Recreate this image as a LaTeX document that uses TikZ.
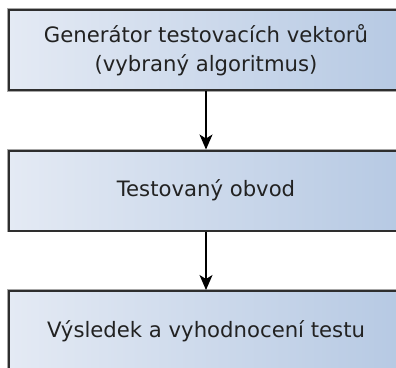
\documentclass[tikz,border=0pt]{standalone}
\usepackage{fontspec}
\setmainfont{DejaVu Sans}
\usetikzlibrary{arrows.meta}
\definecolor{boxleft}{HTML}{E4EAF4}
\definecolor{boxright}{HTML}{B6C9E3}
\definecolor{edge}{HTML}{2E2E2E}
\definecolor{txt}{HTML}{222222}
\tikzset{
  stage/.style={rectangle, minimum width=394pt, minimum height=80pt, inner sep=0pt,
    left color=boxleft, right color=boxright,
    preaction={draw=gray!70, line width=3.6pt},
    draw=edge, line width=2pt,
    font=\fontsize{21.2}{29}\selectfont, text=txt, align=center},
  link/.style={draw=black, line width=1.3pt, -{Stealth[length=15pt,width=13pt,inset=4pt]}}
}
\begin{document}
\begin{tikzpicture}[x=1pt,y=1pt]
\useasboundingbox (0,0) rectangle (396,-367);
\clip (0,0) rectangle (396,-367);
\node[stage] (gen) at (206,-50) {Generátor testovacích vektorů\\(vybraný algoritmus)};
\node[stage] (dut) at (206,-190.5) {Testovaný obvod};
\node[stage] (res) at (206,-331) {Výsledek a vyhodnocení testu};
\draw[link] (gen.south) -- (dut.north);
\draw[link] (dut.south) -- (res.north);
\end{tikzpicture}
\end{document}
